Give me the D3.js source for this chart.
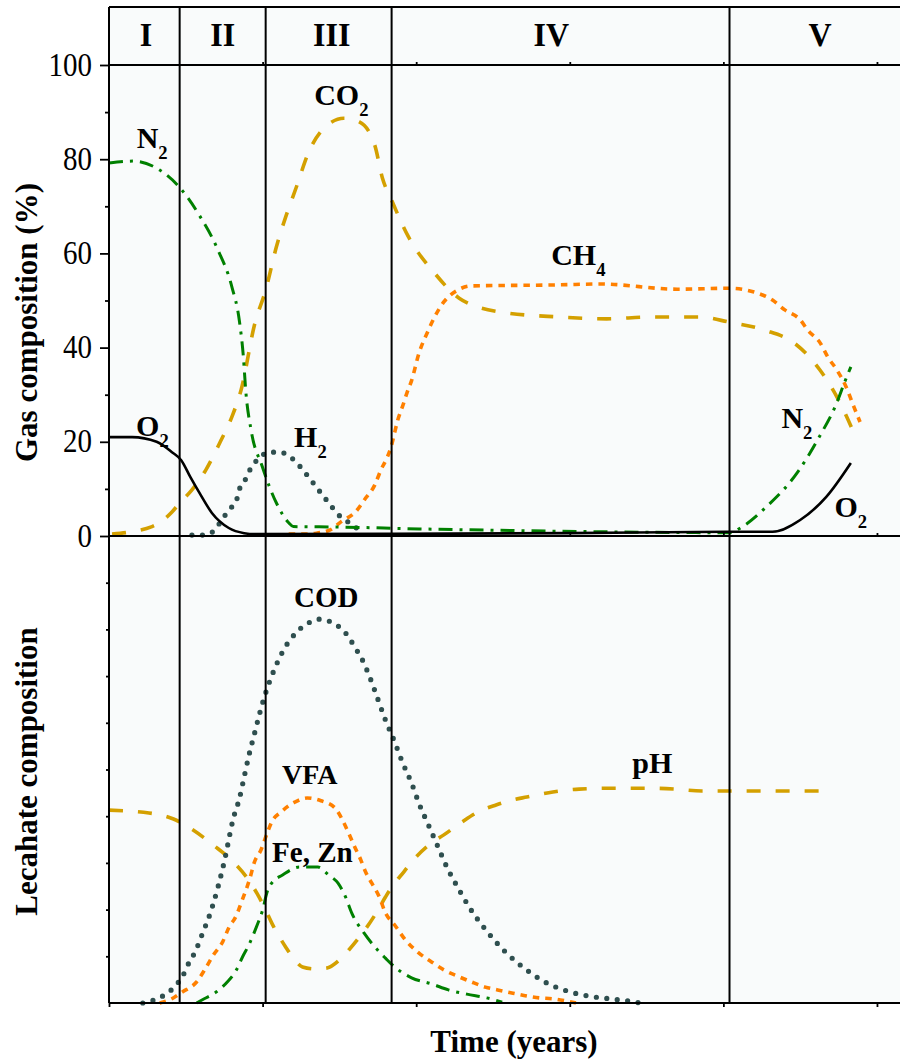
<!DOCTYPE html>
<html><head><meta charset="utf-8">
<script src="https://cdn.jsdelivr.net/npm/d3@7"></script>
<style>
body{margin:0;background:#fff;}
svg{display:block;}
</style>
</head><body>
<svg id="c" width="900" height="1059"></svg>
<script>
// ---------- data ----------
const phaseNames = ["I","II","III","IV","V"];
const phaseCenters = [0.24,0.74,1.45,2.88,4.63];
const phaseBounds = [0.46,1.02,1.84,4.04];
const gasTicks = [0,20,40,60,80,100];
const gasMinor = [10,30,50,70,90];
const leachTicks = [10,20,30,40,50,60,70,80,90];
const timeTicks = [0,1,2,3,4,5];

// gas composition (%), time in years
const o2 = [[0,21],[0.15,21],[0.31,20],[0.41,17.8],[0.47,16.1],[0.53,12.5],[0.59,9.1],[0.67,4.9],[0.78,1.7],[0.88,0.6],[0.95,0.4],[1.84,0.45],[3.0,0.6],[4.04,0.9],[4.32,0.9],[4.50,3.4],[4.67,8.3],[4.83,15.5]];
const n2 = [[0,79.2],[0.16,79.6],[0.33,77.7],[0.46,74],[0.59,68],[0.71,60.7],[0.80,52.9],[0.85,45.4],[0.875,38],[0.89,31],[0.925,22.5],[0.995,15],[1.09,7],[1.17,2.8],[1.2,2.0],[1.5,1.9],[2.02,1.5],[2.54,1.2],[3.2,0.9],[4.04,0.7],[4.12,1.9],[4.28,6.2],[4.48,13.4],[4.62,20.8],[4.74,28.4],[4.79,32.7],[4.83,35.9]];
const co2 = [[0.02,0.4],[0.28,2],[0.41,5.1],[0.46,7],[0.54,9.8],[0.63,14],[0.72,19.7],[0.80,25.3],[0.86,31],[0.95,45.2],[1.02,52.2],[1.09,61.4],[1.15,67.7],[1.22,74.1],[1.30,81.5],[1.40,86.6],[1.53,88.7],[1.63,87.9],[1.73,83],[1.78,76],[1.84,71.3],[1.95,63.5],[2.12,55.8],[2.28,50.5],[2.54,47.6],[2.93,46.5],[3.24,46.1],[3.52,46.5],[3.84,46.5],[4.04,45.4],[4.27,43.7],[4.46,41],[4.63,35.2],[4.74,29.5],[4.85,21.9]];
const ch4 = [[1.17,0.4],[1.27,0.4],[1.35,0.6],[1.44,1.3],[1.51,3],[1.61,5.3],[1.67,8],[1.73,10.8],[1.77,14],[1.81,16.6],[1.84,19.3],[1.86,22],[1.88,24.6],[1.91,27.4],[1.94,30.4],[1.97,33],[2.02,39],[2.07,43],[2.12,46.5],[2.18,49.7],[2.27,52.2],[2.36,53.1],[2.9,53.3],[3.2,53.5],[3.7,52.4],[4.04,52.6],[4.2,51.8],[4.32,50.1],[4.40,48],[4.50,45.9],[4.55,43.7],[4.63,41],[4.68,38],[4.74,35.2],[4.80,31.6],[4.85,27.4],[4.89,24.2]];
const h2 = [[0.54,0.2],[0.61,0.2],[0.68,1],[0.73,3.2],[0.78,5.5],[0.83,7.6],[0.85,10],[0.89,12.1],[0.92,14.2],[0.98,16.6],[1.04,17.8],[1.11,17.8],[1.18,16.8],[1.24,14.9],[1.30,12.5],[1.35,10.4],[1.40,8.3],[1.45,6.2],[1.51,4],[1.58,2.5],[1.65,0.6]];

// leachate composition (relative units)
const cod = [[0.22,0],[0.29,0.6],[0.36,1.7],[0.43,3.6],[0.48,5.8],[0.52,8.6],[0.56,10.9],[0.61,15],[0.66,19.3],[0.68,21.4],[0.75,30.2],[0.81,39.6],[0.85,43.9],[0.88,48.4],[0.91,52.9],[0.945,57.4],[0.98,61.9],[1.02,66.4],[1.07,70.9],[1.13,75.2],[1.23,79.7],[1.30,81.4],[1.36,82.2],[1.43,81.8],[1.50,80.5],[1.56,78.4],[1.60,76.2],[1.64,74.1],[1.70,69.6],[1.75,65.1],[1.80,60.6],[1.86,55.9],[1.91,51.6],[1.97,47.1],[2.02,42.6],[2.08,38.1],[2.14,33.6],[2.20,29.1],[2.27,24.8],[2.35,20.3],[2.45,15.8],[2.57,11.3],[2.71,7.3],[2.85,4.3],[2.98,2.6],[3.12,1.5],[3.26,0.9],[3.39,0.4],[3.46,0]];
const vfa = [[0.33,0],[0.39,0.6],[0.48,2.4],[0.57,4.5],[0.63,7.5],[0.68,10.3],[0.74,13.1],[0.78,16.1],[0.83,18.8],[0.86,21.4],[0.92,27],[0.945,30],[0.99,32.8],[1.03,36.4],[1.06,38.8],[1.12,40.9],[1.21,43],[1.29,43.9],[1.38,43.3],[1.47,41.8],[1.52,39.2],[1.56,36.4],[1.60,33.4],[1.64,30.6],[1.67,28.1],[1.71,25.7],[1.76,22.7],[1.80,19.3],[1.86,16.7],[1.93,13.5],[2.01,10.9],[2.10,8.8],[2.18,7.1],[2.28,5.6],[2.36,4.5],[2.45,3.4],[2.53,2.8],[2.63,2.1],[2.72,1.5],[2.80,1.1],[2.89,0.9],[2.98,0.4],[3.04,0]];
const feZn = [[0.57,0],[0.62,0.9],[0.70,2.4],[0.77,4.5],[0.83,7.1],[0.87,9.9],[0.91,12.4],[0.96,16.3],[1.00,19.9],[1.03,23.8],[1.06,25.7],[1.13,27.4],[1.24,29.1],[1.36,29.1],[1.43,27.4],[1.49,25.7],[1.54,22.7],[1.58,19.3],[1.66,15],[1.75,11.3],[1.80,9.6],[1.86,7.7],[1.97,5.4],[2.10,4.1],[2.21,2.8],[2.33,1.9],[2.46,1.1],[2.56,0.2]];
const ph = [[0,41.3],[0.26,40.7],[0.42,39.4],[0.55,37],[0.68,33.8],[0.81,30.2],[0.91,26.3],[0.98,22.5],[1.02,19.9],[1.06,17.1],[1.15,12],[1.21,9.2],[1.26,7.7],[1.34,7.3],[1.42,7.5],[1.50,9.2],[1.56,11.3],[1.63,14.1],[1.68,16.3],[1.74,19.3],[1.80,22.7],[1.84,24.8],[1.92,28.1],[1.97,30.2],[2.10,34.3],[2.18,36],[2.30,38.8],[2.39,40.7],[2.52,42.4],[2.63,43.5],[2.72,44.1],[2.89,45.2],[3.06,45.8],[3.28,46],[3.50,46],[3.69,45.8],[3.86,45.4],[4.25,45.4],[4.70,45.4]];

// ---------- layout ----------
const SERIF = '"Liberation Serif","Times New Roman",Times,serif';
const svg = d3.select("#c");
const left = 109, right = 900, frameTop = 7;
const x = d3.scaleLinear().domain([0,5.15]).range([left,right]);
const yG = d3.scaleLinear().domain([0,100]).range([536,65]);
const yL = d3.scaleLinear().domain([0,100]).range([1003,536]);

svg.append("rect").attr("x",left).attr("y",frameTop).attr("width",right-left).attr("height",1003-frameTop).attr("fill","#f9fbfb");

// curves
const COL = {black:"#000", green:"#008000", gold:"#d4a000", orange:"#ff8000", slate:"#2f4f4f"};
function draw(data, ys, color, width, dash, cap){
  const line = d3.line().x(d=>x(d[0])).y(d=>ys(d[1])).curve(d3.curveMonotoneX);
  svg.append("path").attr("d",line(data)).attr("fill","none")
    .attr("stroke",color).attr("stroke-width",width)
    .attr("stroke-dasharray",dash||null).attr("stroke-linecap",cap||"butt");
}
draw(co2, yG, COL.gold, 3.6, "14 15");
draw(ch4, yG, COL.orange, 3.6, "6.5 6");
draw(h2, yG, COL.slate, 5.2, "0 10.5", "round");
draw(n2, yG, COL.green, 3, "14 7 3 7");

draw(ph, yL, COL.gold, 3.6, "14 15");
draw(cod, yL, COL.slate, 5.2, "0 10.5", "round");
draw(vfa, yL, COL.orange, 3.6, "6.5 6");
draw(feZn, yL, COL.green, 3, "14 7 3 7");

// frame lines
const fr = svg.append("g").attr("stroke","#000").attr("stroke-width",2);
[frameTop, yG(100), yG(0), yL(0)].forEach(yy=>{
  fr.append("line").attr("x1",left).attr("x2",right).attr("y1",yy).attr("y2",yy);
});
fr.append("line").attr("x1",left).attr("x2",left).attr("y1",frameTop).attr("y2",yL(0));
phaseBounds.forEach(b=>{
  fr.append("line").attr("x1",x(b)).attr("x2",x(b)).attr("y1",frameTop).attr("y2",yL(0));
});

draw(o2, yG, COL.black, 2.6, null);

// axes
function styleAxis(g){ g.attr("font-family",null).attr("font-size",null); g.select(".domain").remove(); g.selectAll(".tick line").attr("stroke","#000").attr("stroke-width",1.8); }
const axMaj = svg.append("g").attr("transform",`translate(${left},0)`)
  .call(d3.axisLeft(yG).tickValues(gasTicks).tickSize(9).tickPadding(8).tickFormat(d3.format("d")));
styleAxis(axMaj);
axMaj.selectAll(".tick text").attr("font-size",29).attr("fill","#000")
  .attr("transform","scale(1,1.15)").attr("dy","0.3em");
const axMin = svg.append("g").attr("transform",`translate(${left},0)`)
  .call(d3.axisLeft(yG).tickValues(gasMinor).tickSize(4).tickFormat(""));
styleAxis(axMin);
const axL = svg.append("g").attr("transform",`translate(${left},0)`)
  .call(d3.axisLeft(yL).tickValues(leachTicks).tickSize(3).tickFormat(""));
styleAxis(axL);
const axB = svg.append("g").attr("transform",`translate(0,${yL(0)})`)
  .call(d3.axisBottom(x).tickValues(timeTicks).tickSize(4).tickFormat(""));
styleAxis(axB);
[yG(100), yG(0)].forEach(yy=>{
  const a = svg.append("g").attr("transform",`translate(0,${yy})`)
    .call(d3.axisTop(x).tickValues(timeTicks.slice(1)).tickSize(3).tickFormat(""));
  styleAxis(a);
});

// phase labels
phaseNames.forEach((n,i)=>{
  svg.append("text").attr("transform",`translate(${x(phaseCenters[i])},46) scale(1,1.08)`)
    .attr("text-anchor","middle").attr("font-size",32).attr("font-weight","bold").text(n);
});

// curve labels
function label(t, v, ys, main, sub, size){
  const fs = size||30;
  const tx = svg.append("text").attr("x",x(t)).attr("y",ys(v)).attr("font-size",fs).attr("font-weight","bold");
  tx.append("tspan").text(main);
  if(sub) tx.append("tspan").attr("font-size",fs*0.62).attr("dy",fs*0.36).text(sub);
}
label(0.18, 82.4, yG, "N", "2");
label(0.176, 21.2, yG, "O", "2");
label(1.336, 91.5, yG, "CO", "2");
label(1.205, 18.9, yG, "H", "2");
label(2.879, 57.5, yG, "CH", "4");
label(4.378, 22.9, yG, "N", "2");
label(4.723, 4.0, yG, "O", "2");
label(1.205, 84.8, yL, "COD", null, 29);
label(1.127, 46.9, yL, "VFA", null, 28);
label(1.062, 30.2, yL, "Fe, Zn", null, 29);
label(3.407, 49.3, yL, "pH", null, 30);

// axis titles
svg.append("text").attr("transform",`translate(37,${(yG(0)+yG(100))/2+22}) rotate(-90)`)
  .attr("text-anchor","middle").attr("font-size",31).attr("font-weight","bold").text("Gas composition (%)");
svg.append("text").attr("transform",`translate(37,${(yL(0)+yL(100))/2+2}) rotate(-90)`)
  .attr("text-anchor","middle").attr("font-size",31).attr("font-weight","bold").text("Lecahate composition");
svg.append("text").attr("x",514).attr("y",1052)
  .attr("text-anchor","middle").attr("font-size",31).attr("font-weight","bold").text("Time (years)");

svg.selectAll("text").style("font-family", SERIF).style("fill","#000");
</script>
</body></html>
